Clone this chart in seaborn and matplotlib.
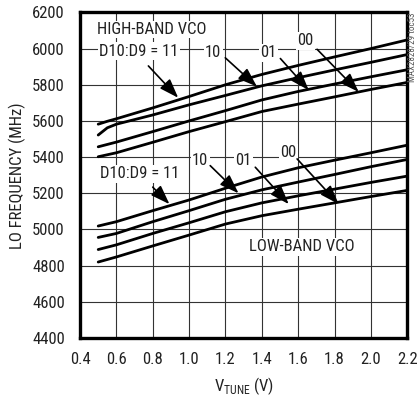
import pandas as pd
import matplotlib
matplotlib.use("Agg")
import matplotlib.pyplot as plt
import seaborn as sns

# ---- data ----
vtune = [0.5, 0.55, 0.6, 0.8, 1.0, 1.2, 1.4, 1.6, 1.8, 2.0, 2.2]

hb_11 = [5582, 5598, 5612, 5672, 5735, 5800, 5857, 5907, 5954, 6000, 6048]
hb_10 = [5522, 5562, 5582, 5633, 5689, 5741, 5794, 5839, 5882, 5924, 5967]
hb_01 = [5457, 5470, 5483, 5541, 5600, 5657, 5716, 5763, 5804, 5844, 5883]
hb_00 = [5402, 5413, 5424, 5482, 5541, 5596, 5652, 5693, 5733, 5774, 5813]

lb_11 = [5019, 5031, 5043, 5104, 5163, 5228, 5290, 5341, 5383, 5424, 5466]
lb_10 = [4956, 4967, 4978, 5043, 5104, 5167, 5219, 5262, 5304, 5347, 5387]
lb_01 = [4889, 4902, 4915, 4978, 5037, 5098, 5147, 5186, 5223, 5260, 5295]
lb_00 = [4820, 4834, 4848, 4909, 4969, 5030, 5076, 5112, 5147, 5182, 5216]

xticks = [0.4, 0.6, 0.8, 1.0, 1.2, 1.4, 1.6, 1.8, 2.0, 2.2]
yticks = [4400, 4600, 4800, 5000, 5200, 5400, 5600, 5800, 6000, 6200]

curves = {"HB 11": hb_11, "HB 10": hb_10, "HB 01": hb_01, "HB 00": hb_00,
          "LB 11": lb_11, "LB 10": lb_10, "LB 01": lb_01, "LB 00": lb_00}
rows = []
for name, vals in curves.items():
    for v, f in zip(vtune, vals):
        rows.append({"curve": name, "vtune": v, "freq": f})
df = pd.DataFrame(rows)

# ---- style ----
sns.set_style("white")
FONT = ["Roboto Condensed", "DejaVu Sans"]
plt.rcParams["font.family"] = FONT
plt.rcParams["mathtext.fontset"] = "custom"
plt.rcParams["mathtext.rm"] = "Roboto Condensed"

fig = plt.figure(figsize=(4.19, 4.0), dpi=100)
ax = fig.add_axes([0.191, 0.155, 0.781, 0.814])

sns.lineplot(data=df, x="vtune", y="freq", units="curve", estimator=None,
             color="black", linewidth=2.0, ax=ax, legend=False)

ax.set_xlim(0.4, 2.2)
ax.set_ylim(4400, 6200)
ax.set_xticks(xticks)
ax.set_yticks(yticks)
ax.set_xticklabels([f"{t:.1f}" for t in xticks])
ax.grid(True, color="#333333", linewidth=0.8)
ax.set_axisbelow(True)
ax.tick_params(length=0, labelsize=12, colors="#222222")
ax.tick_params(axis="y", pad=11)
ax.tick_params(axis="x", pad=10)
for s in ax.spines.values():
    s.set_linewidth(2.4)
    s.set_color("black")

ax.set_xlabel("V$_{\\rm TUNE}$ (V)", fontsize=12, color="#222222", labelpad=6)
ax.set_ylabel("LO FREQUENCY (MHz)", fontsize=12, color="#222222", labelpad=4)

box = dict(facecolor="white", edgecolor="none", pad=1.0)
tkw = dict(fontsize=12, color="#222222", bbox=box)
akw = dict(arrowstyle="-|>,head_length=0.9,head_width=0.32", color="black",
           lw=1.2, shrinkA=0, shrinkB=0, mutation_scale=13)

# high band labels
ax.text(0.494, 6106, "HIGH-BAND VCO", ha="left", va="center", **tkw)
ax.text(0.505, 5985, "D10:D9 = 11", ha="left", va="center", **tkw)
ax.annotate("", xy=(0.94, 5728), xytext=(0.776, 5904), arrowprops=akw)
ax.text(1.133, 5979, "10", ha="center", va="center", **tkw)
ax.annotate("", xy=(1.373, 5790), xytext=(1.199, 5949), arrowprops=akw)
ax.text(1.437, 5976, "01", ha="center", va="center", **tkw)
ax.annotate("", xy=(1.658, 5770), xytext=(1.502, 5945), arrowprops=akw)
ax.text(1.64, 6042, "00", ha="center", va="center", **tkw)
ax.annotate("", xy=(1.933, 5760), xytext=(1.704, 5996), arrowprops=akw)

# low band labels
ax.text(0.73, 5308, "D10:D9 = 11", ha="center", va="center", **tkw)
ax.annotate("", xy=(0.892, 5140), xytext=(0.80, 5234), arrowprops=akw)
ax.text(1.061, 5381, "10", ha="center", va="center", **tkw)
ax.annotate("", xy=(1.272, 5200), xytext=(1.116, 5353), arrowprops=akw)
ax.text(1.30, 5381, "01", ha="center", va="center", **tkw)
ax.annotate("", xy=(1.548, 5140), xytext=(1.364, 5344), arrowprops=akw)
ax.text(1.548, 5423, "00", ha="center", va="center", **tkw)
ax.annotate("", xy=(1.823, 5140), xytext=(1.594, 5390), arrowprops=akw)
ax.text(1.62, 4904, "LOW-BAND VCO", ha="center", va="center", **tkw)

fig.text(0.984, 0.97, "MAX2828/29 toc53", rotation=90, ha="center", va="top",
         fontsize=6.5, color="#555555")

fig.savefig("out.png", dpi=100)
